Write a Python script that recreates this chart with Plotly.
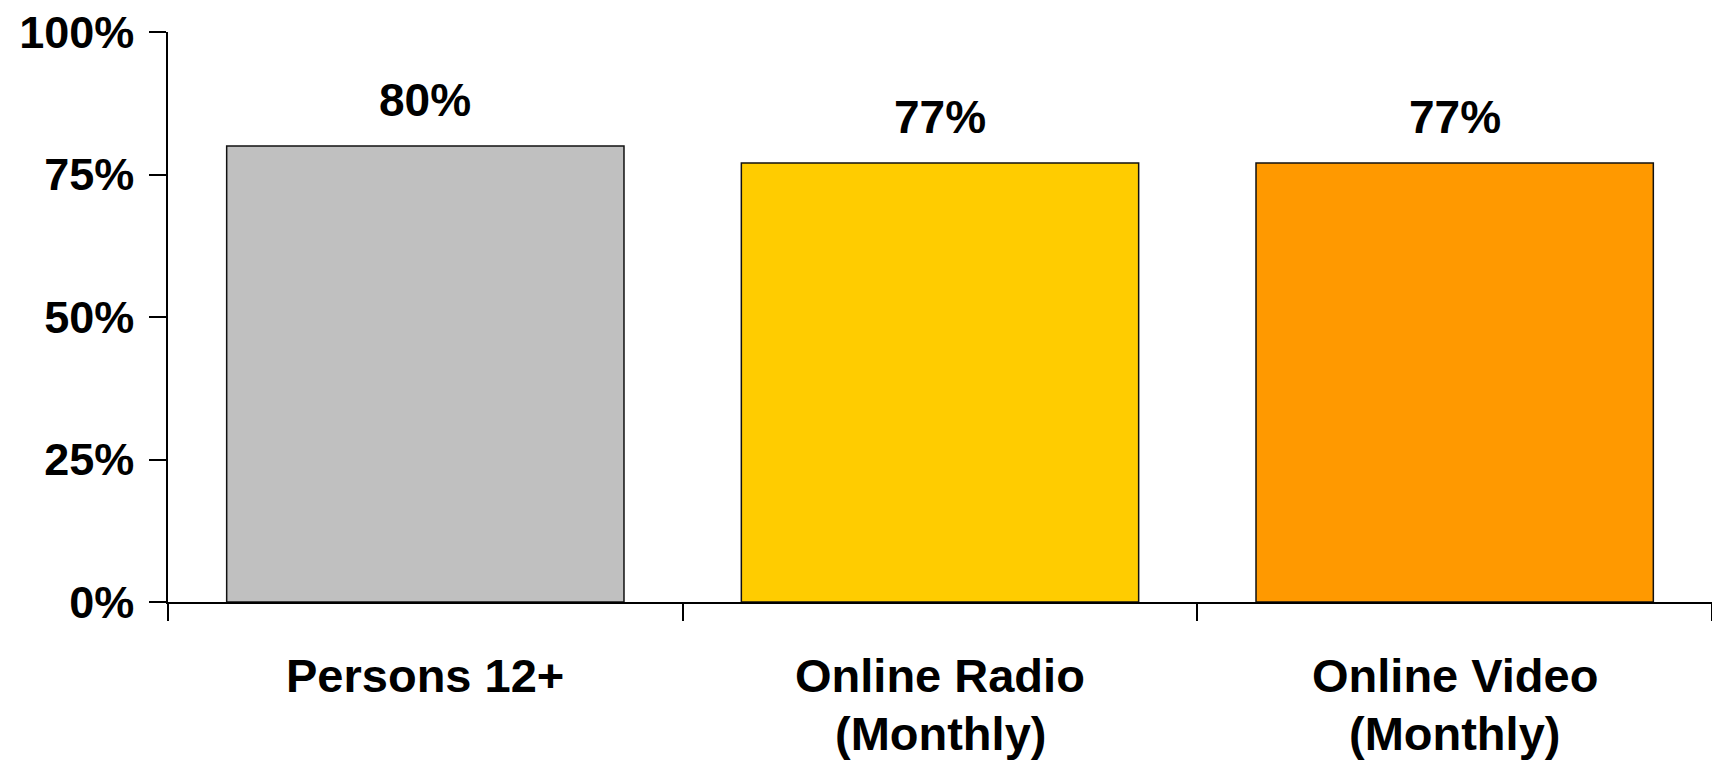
import plotly.graph_objects as go

# Share of each group, in percent
categories = ["Persons 12+", "Online Radio\n(Monthly)", "Online Video\n(Monthly)"]
reach = [80, 77, 77]
bar_colors = ["#C0C0C0", "#FFCC00", "#FF9900"]
y_ticks = [0, 25, 50, 75, 100]
y_tick_text = [f"{v}%" for v in y_ticks]

FONT = "Arial, 'Liberation Sans', sans-serif"
x_names = [c.replace("\n", " ") for c in categories]

fig = go.Figure(
    go.Bar(
        x=x_names,
        y=reach,
        marker=dict(color=bar_colors, line=dict(color="#111111", width=1.5)),
        width=0.772,
        hoverinfo="skip",
    )
)

# Value labels above each bar
for name, v in zip(x_names, reach):
    fig.add_annotation(
        x=name, y=v, xref="x", yref="y",
        text=f"<b>{v:.0f}%</b>", showarrow=False,
        yanchor="middle", yshift=46,
        font=dict(family=FONT, size=46, color="black"),
    )

# Category labels below the axis, one annotation per line
line_offsets = [-73, -131]
for name, cat in zip(x_names, categories):
    for i, line in enumerate(cat.split("\n")):
        fig.add_annotation(
            x=name, y=0, xref="x", yref="paper",
            text=f"<b>{line}</b>", showarrow=False,
            yanchor="middle", yshift=line_offsets[i],
            font=dict(family=FONT, size=47, color="black"),
        )

fig.update_layout(
    width=1712, height=764,
    margin=dict(l=168, r=0, t=32, b=162),
    paper_bgcolor="white", plot_bgcolor="white",
    showlegend=False,
    font=dict(family=FONT, color="black"),
)
fig.update_xaxes(
    type="category", range=[-0.5, 2.5],
    showline=True, linecolor="black", linewidth=1.5,
    ticks="outside", ticklen=17, tickwidth=1.5, tickcolor="black",
    tickson="boundaries", showticklabels=False, showgrid=False, zeroline=False,
)
fig.update_yaxes(
    range=[0, 100], tickvals=y_ticks, ticktext=[f"<b>{t}</b>" for t in y_tick_text],
    showline=True, linecolor="black", linewidth=1.5,
    ticks="outside", ticklen=17, tickwidth=1.5, tickcolor="black",
    tickfont=dict(family=FONT, size=45, color="black"),
    ticklabelstandoff=6,
    showgrid=False, zeroline=False,
)

fig.write_html("out.html")
